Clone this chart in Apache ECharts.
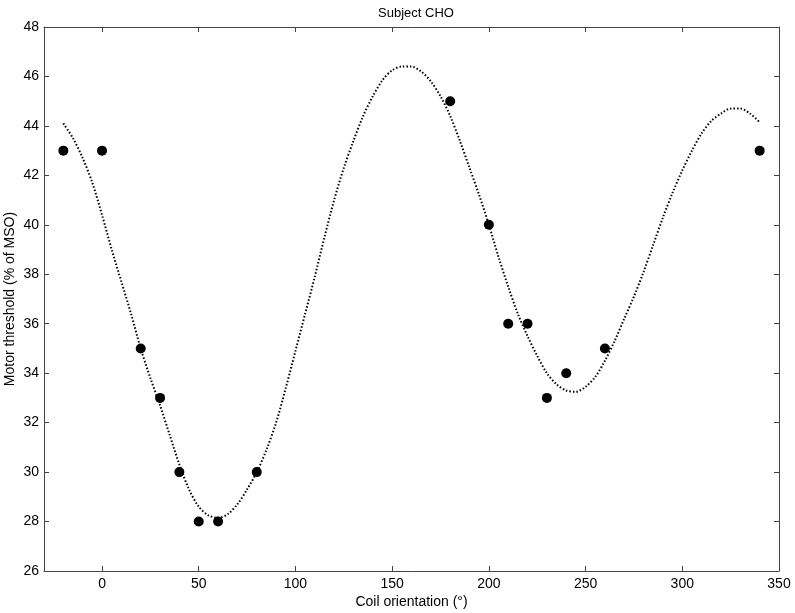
<!DOCTYPE html>
<html>
<head>
<meta charset="utf-8">
<script src="https://cdn.jsdelivr.net/npm/echarts@6/dist/echarts.min.js"></script>
<style>html,body{margin:0;padding:0;background:#fff}#c{width:795px;height:613px}</style>
</head>
<body>
<div id="c"></div>
<script>
// measured points
var pointAngles = [-20, 0, 20, 30, 40, 50, 60, 80, 180, 200, 210, 220, 230, 240, 260, 340];
var pointThresholds = [43, 43, 35, 33, 30, 28, 28, 30, 45, 40, 36, 36, 33, 34, 35, 43];
// fitted curve, every 5 degrees
var curveAngles = [-20,-15,-10,-5,0,5,10,15,20,25,30,35,40,45,50,55,60,65,70,75,80,85,90,95,100,105,110,115,120,125,130,135,140,145,150,155,160,165,170,175,180,185,190,195,200,205,210,215,220,225,230,235,240,245,250,255,260,265,270,275,280,285,290,295,300,305,310,315,320,325,330,335,340];
var curveValues = [44.1,43.5,42.7,41.7,40.4,39.0,37.7,36.4,35.0,33.8,32.7,31.5,30.3,29.3,28.6,28.25,28.15,28.3,28.7,29.3,30.0,30.9,32.0,33.4,34.9,36.4,37.9,39.5,41.0,42.3,43.4,44.4,45.2,45.85,46.25,46.4,46.4,46.2,45.8,45.2,44.4,43.4,42.3,41.2,40.0,38.7,37.5,36.4,35.5,34.7,34.0,33.55,33.3,33.25,33.45,33.85,34.5,35.3,36.2,37.1,38.1,39.2,40.3,41.3,42.2,43.0,43.7,44.2,44.5,44.7,44.7,44.5,44.15];
var xTickValues = [0, 50, 100, 150, 200, 250, 300, 350];
var xRange = [-30, 350];
var yRange = [26, 48];
var yStep = 2;

var curve = curveAngles.map(function(a, i){ return [a, curveValues[i]]; });
var pts = pointAngles.map(function(a, i){ return [a, pointThresholds[i]]; });

var font = 'Liberation Sans, Arial, Helvetica, sans-serif';
var axisLine = {show: true, onZero: false, lineStyle: {color: '#444', width: 1}};
var tick = {show: true, inside: true, length: 5, lineStyle: {color: '#444', width: 1}};
var xtick = {show: true, inside: true, length: 5, lineStyle: {color: '#444', width: 1}, customValues: xTickValues};
var chart = echarts.init(document.getElementById('c'), null, {renderer: 'canvas'});
chart.setOption({
  animation: false,
  backgroundColor: '#fff',
  title: {text: 'Subject CHO', left: 411, textAlign: 'center', top: 2,
    textStyle: {fontFamily: font, fontSize: 13, fontWeight: 'normal', color: '#000'}},
  grid: {left: 44, right: 16, top: 27, bottom: 42, containLabel: false, outerBoundsMode: 'none'},
  xAxis: [{
    type: 'value', min: xRange[0], max: xRange[1], position: 'bottom',
    name: 'Coil orientation (°)', nameLocation: 'middle', nameGap: 24, nameMoveOverlap: false,
    nameTextStyle: {fontFamily: font, fontSize: 14, color: '#000'},
    axisLine: axisLine, axisTick: xtick, splitLine: {show: false},
    axisLabel: {fontFamily: font, fontSize: 14, color: '#000', margin: 6, customValues: xTickValues}
  }, {
    type: 'value', min: xRange[0], max: xRange[1], position: 'top',
    axisLine: axisLine, axisTick: xtick, splitLine: {show: false}, axisLabel: {show: false}
  }],
  yAxis: [{
    type: 'value', min: yRange[0], max: yRange[1], interval: yStep, position: 'left',
    name: 'Motor threshold (% of MSO)', nameLocation: 'middle', nameGap: 27, nameMoveOverlap: false,
    nameTextStyle: {fontFamily: font, fontSize: 14, color: '#000'},
    axisLine: axisLine, axisTick: tick, splitLine: {show: false},
    axisLabel: {fontFamily: font, fontSize: 14, color: '#000', margin: 5}
  }, {
    type: 'value', min: yRange[0], max: yRange[1], interval: yStep, position: 'right',
    axisLine: axisLine, axisTick: tick, splitLine: {show: false}, axisLabel: {show: false}
  }],
  series: [{
    type: 'line', data: curve, smooth: 0.3, showSymbol: false, symbol: 'none',
    lineStyle: {color: '#000', width: 2, type: [1.5, 2]}, z: 2
  }, {
    type: 'scatter', data: pts, symbol: 'circle', symbolSize: 10,
    itemStyle: {color: '#000', opacity: 1}, z: 3
  }]
});
</script>
</body>
</html>
